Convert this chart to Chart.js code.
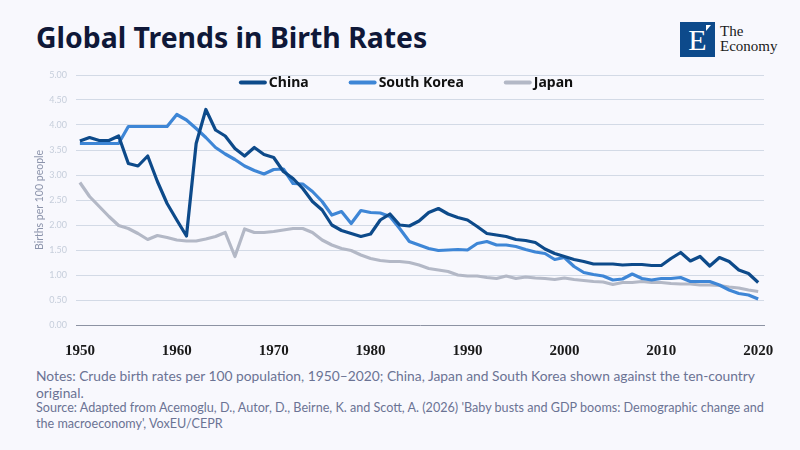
<!DOCTYPE html>
<html>
<head>
<meta charset="utf-8">
<script src="https://cdn.jsdelivr.net/npm/chart.js@4.4.1/dist/chart.umd.min.js"></script>
<style>
  html, body { margin:0; padding:0; background:#f8f8fd; width:800px; height:450px; overflow:hidden; }
  #title { position:absolute; left:36px; top:23px; font-family:"Noto Sans", sans-serif; font-weight:700; font-size:28.4px; line-height:28px; color:#0f1838; white-space:nowrap; }
  #wrap { position:absolute; left:0; top:60px; width:800px; height:300px; }
  #notes { position:absolute; left:36px; top:367px; font-family:Lato, sans-serif; color:#6b7394; font-size:13.8px; line-height:17px; width:735px; }
  #source { position:absolute; left:36px; top:400px; font-family:Lato, sans-serif; color:#6b7394; font-size:12.6px; line-height:16px; width:740px; }
  #logo { position:absolute; left:680px; top:22px; width:35px; height:35px; background:#0d4a8b; overflow:hidden; }
  #logo .e { position:absolute; left:0; top:1px; width:35px; text-align:center; font-family:"Liberation Serif", serif; font-size:30px; line-height:34px; color:#fff; }
  #logo .tri { position:absolute; left:26px; top:3px; width:0; height:0; border-left:5px solid #fff; border-bottom:6px solid transparent; }
  #logotext { position:absolute; left:720px; top:24px; font-family:"Liberation Serif", serif; font-size:15px; line-height:15px; color:#1a1a1a; }
</style>
</head>
<body>
<div id="title">Global Trends in Birth Rates</div>
<div id="logo"><div class="e">E</div><div class="tri"></div></div>
<div id="logotext">The<br>Economy</div>
<div id="wrap"><canvas id="c"></canvas></div>
<div id="notes">Notes: Crude birth rates per 100 population, 1950–2020; China, Japan and South Korea shown against the ten-country original.</div>
<div id="source">Source: Adapted from Acemoglu, D., Autor, D., Beirne, K. and Scott, A. (2026) 'Baby busts and GDP booms: Demographic change and the macroeconomy', VoxEU/CEPR</div>
<script>
const years = [];
for (let y = 1950; y <= 2020; y++) years.push(y);

const china = [
  3.68, 3.75, 3.69, 3.69, 3.78, 3.23, 3.18, 3.38, 2.87, 2.43,
  2.10, 1.78, 3.63, 4.31, 3.90, 3.78, 3.53, 3.38, 3.55, 3.41,
  3.35, 3.07, 2.93, 2.73, 2.47, 2.30, 2.00, 1.89, 1.83, 1.77,
  1.82, 2.10, 2.22, 2.00, 1.98, 2.08, 2.25, 2.33, 2.22, 2.15,
  2.10, 1.97, 1.83, 1.80, 1.77, 1.71, 1.69, 1.65, 1.52, 1.43,
  1.37, 1.31, 1.27, 1.22, 1.22, 1.22, 1.20, 1.21, 1.21, 1.19,
  1.19, 1.33, 1.45, 1.28, 1.37, 1.18, 1.35, 1.27, 1.10, 1.03, 0.85
];
const southKorea = [
  3.63, 3.63, 3.63, 3.63, 3.63, 3.97, 3.97, 3.97, 3.97, 3.97,
  4.21, 4.10, 3.93, 3.75, 3.55, 3.42, 3.31, 3.18, 3.09, 3.02,
  3.11, 3.12, 2.83, 2.82, 2.67, 2.47, 2.20, 2.27, 2.03, 2.29,
  2.25, 2.24, 2.17, 1.93, 1.67, 1.60, 1.53, 1.49, 1.50, 1.51,
  1.50, 1.63, 1.67, 1.60, 1.60, 1.57, 1.51, 1.46, 1.43, 1.31,
  1.35, 1.17, 1.05, 1.01, 0.98, 0.90, 0.92, 1.02, 0.93, 0.90,
  0.93, 0.93, 0.95, 0.87, 0.87, 0.87, 0.80, 0.70, 0.63, 0.60, 0.52
];
const japan = [
  2.85, 2.57, 2.37, 2.17, 1.99, 1.93, 1.83, 1.71, 1.79, 1.75,
  1.70, 1.68, 1.68, 1.72, 1.77, 1.85, 1.37, 1.92, 1.85, 1.85,
  1.87, 1.90, 1.93, 1.93, 1.85, 1.70, 1.60, 1.53, 1.49, 1.40,
  1.33, 1.29, 1.27, 1.27, 1.25, 1.20, 1.13, 1.10, 1.07, 1.00,
  0.98, 0.98, 0.95, 0.93, 0.98, 0.93, 0.96, 0.94, 0.93, 0.91,
  0.94, 0.91, 0.89, 0.87, 0.86, 0.81, 0.85, 0.85, 0.87, 0.85,
  0.85, 0.83, 0.82, 0.82, 0.80, 0.80, 0.79, 0.76, 0.74, 0.70, 0.67
];
const xTicks = [1950, 1960, 1970, 1980, 1990, 2000, 2010, 2020];
const seriesNames = ['China', 'South Korea', 'Japan'];

const toXY = arr => arr.map((v, i) => ({ x: years[i], y: v }));

const ds = (label, data, color) => ({
  label, data: toXY(data), borderColor: color, backgroundColor: color,
  borderWidth: 3.2, pointRadius: 0, tension: 0, borderJoinStyle: 'round', borderCapStyle: 'butt'
});

// Legend drawn inside the plot area, in one row, from the datasets
const inlineLegend = {
  id: 'inlineLegend',
  afterDraw(chart) {
    const ctx = chart.ctx;
    ctx.save();
    ctx.font = 'bold 14px "Noto Sans"';
    ctx.textBaseline = 'middle';
    const lineW = 27, gap = 3, sep = 40;
    const items = chart.data.datasets.map(d => ({ label: d.label, color: d.borderColor, w: ctx.measureText(d.label).width }));
    const total = items.reduce((s, it) => s + lineW + gap + it.w, 0) + sep * (items.length - 1);
    let x = 406 - total / 2;
    const y = chart.chartArea.top + 7.5;
    items.forEach(it => {
      ctx.strokeStyle = it.color;
      ctx.lineWidth = 4;
      ctx.lineCap = 'round';
      ctx.beginPath();
      ctx.moveTo(x + 2, y);
      ctx.lineTo(x + lineW - 1, y);
      ctx.stroke();
      ctx.fillStyle = '#111111';
      ctx.fillText(it.label, x + lineW + gap, y + 0.5);
      x += lineW + gap + it.w + sep;
    });
    ctx.restore();
  }
};

new Chart(document.getElementById('c'), {
  type: 'line',
  data: {
    datasets: [
      ds(seriesNames[0], china, '#0d4a8a'),
      ds(seriesNames[1], southKorea, '#3e86d6'),
      ds(seriesNames[2], japan, '#b3b8c6')
    ]
  },
  plugins: [inlineLegend],
  options: {
    responsive: true,
    maintainAspectRatio: false,
    animation: false,
    layout: { padding: { left: 33, right: 36, top: 15, bottom: 0 } },
    plugins: {
      legend: { display: false },
      tooltip: { enabled: false }
    },
    scales: {
      x: {
        type: 'linear',
        min: 1949.6, max: 2020.6,
        afterBuildTicks: s => { s.ticks = xTicks.map(v => ({ value: v })); },
        afterFit: s => { s.height = 35; },
        grid: { display: false },
        border: { display: true, color: '#8d93a3', width: 1, dash: [3, 3] },
        ticks: {
          color: '#1a1a1a', padding: 9, maxRotation: 0, autoSkip: false,
          font: { family: 'Liberation Serif', weight: '700', size: 15 },
          callback: v => String(v)
        }
      },
      y: {
        min: 0, max: 5,
        afterFit: s => { s.width = 43; },
        ticks: {
          stepSize: 0.5, color: '#c6cedb', padding: 9,
          font: { family: 'Lato', size: 9 },
          callback: v => Number(v).toFixed(2)
        },
        grid: {
          color: ctx => ctx.tick && ctx.tick.value === 0 ? 'rgba(0,0,0,0)' : '#d3dae6',
          lineWidth: 1, drawTicks: false
        },
        border: { display: false },
        title: {
          display: true, text: 'Births per 100 people', color: '#8b93ab',
          font: { family: 'Lato', size: 10.5 }, padding: { top: 0, bottom: 0 }
        }
      }
    }
  }
});
</script>
</body>
</html>
